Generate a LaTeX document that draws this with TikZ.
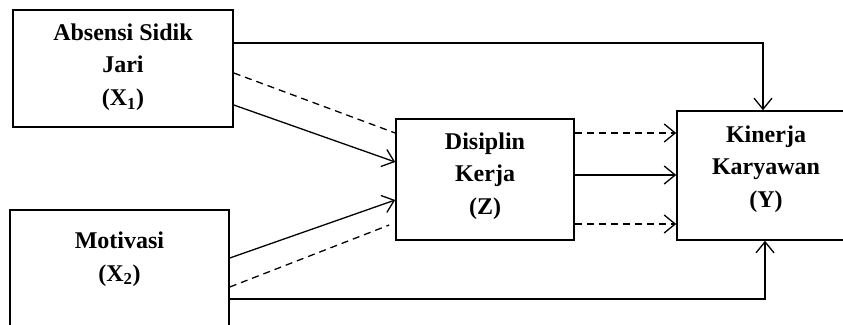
\documentclass[tikz,border=0pt]{standalone}
\usepackage{fontspec}
\setmainfont{Liberation Serif}
\usetikzlibrary{arrows.meta}
\begin{document}
\begin{tikzpicture}[x=1pt,y=-1pt,
  box/.style={draw, line width=1.6pt, rectangle, inner sep=0pt},
  lbl/.style={align=center, font=\fontsize{24}{32.5}\selectfont\bfseries, inner sep=0pt},
  conn/.style={line width=1.3pt},
  arr/.style={conn, -{Straight Barb[length=11pt,width=18pt,line width=1.3pt]}},
  dsh/.style={conn, dash pattern=on 7pt off 5pt}]
\useasboundingbox (0,0) rectangle (843,324);
\node[box, minimum width=220pt, minimum height=117pt] (x1) at (123,68.5) {};
\node[box, minimum width=219pt, minimum height=130pt] (x2) at (119.5,275) {};
\node[box, minimum width=178pt, minimum height=121pt] (z) at (485,179.5) {};
\node[box, minimum width=178pt, minimum height=129pt] (y) at (766,175.5) {};
\node[lbl] (x1t) at (123,67) {Absensi Sidik\\Jari\\(X\textsubscript{1})};
\node[lbl] (x2t) at (119.5,259) {Motivasi\\(X\textsubscript{2})};
\node[lbl] (zt) at (485,176) {Disiplin\\Kerja\\(Z)};
\node[lbl] (yt) at (766,169) {Kinerja\\Karyawan\\(Y)};
% direct paths to Y
\draw[arr] ([yshift=25.5pt]x1.east) -| ([xshift=-3pt]y.north);
\draw[arr] ([yshift=-24pt]x2.east) -| ([xshift=-1pt]y.south);
% X1 to Z
\draw[dsh] ([yshift=-4.5pt]x1.east) -- ([yshift=46.5pt]z.west);
\draw[arr] ([yshift=-36.5pt]x1.east) -- ([yshift=17.5pt]z.west);
% X2 to Z
\draw[arr] ([yshift=17pt]x2.east) -- ([yshift=-20.5pt]z.west);
\draw[dsh] ([yshift=-12pt]x2.east) -- ([xshift=-6pt,yshift=-45.5pt]z.west);
% Z to Y
\coordinate (za) at ([yshift=46.5pt]z.east);
\coordinate (zb) at ([yshift=4.5pt]z.east);
\coordinate (zc) at ([yshift=-44.5pt]z.east);
\draw[arr, dash pattern=on 7pt off 5pt] (za) -- (za -| y.west);
\draw[arr] (zb) -- (zb -| y.west);
\draw[arr, dash pattern=on 7pt off 5pt] (zc) -- (zc -| y.west);
\end{tikzpicture}
\end{document}
